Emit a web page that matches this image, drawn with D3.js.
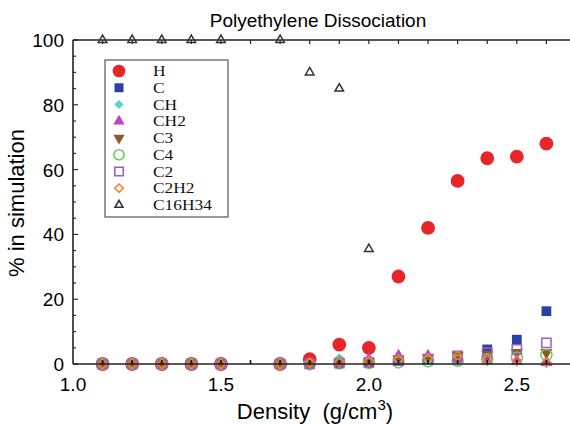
<!DOCTYPE html>
<html>
<head>
<meta charset="utf-8">
<script src="https://cdn.jsdelivr.net/npm/d3@7"></script>
<style>
  body { margin: 0; background: #fff; }
  svg { display: block; }
</style>
</head>
<body>
<div id="chart"></div>
<script>
const width = 570
const height = 424

const density = [1.1, 1.2, 1.3, 1.4, 1.5, 1.7, 1.8, 1.9, 2.0, 2.1, 2.2, 2.3, 2.4, 2.5, 2.6]

const H      = [0, 0, 0, 0, 0, 0, 1.5, 6, 5, 27, 42, 56.5, 63.5, 64, 68]
const C      = [0, 0, 0, 0, 0, 0, 0, 0.3, 0.5, 1, 1.5, 2.5, 4.5, 7.5, 16.3]
const CH     = [0, 0, 0, 0, 0, 0, 0.5, 1.8, 1.2, 1, 1, 1, 0.8, 0.8, 0.5]
const CH2    = [0, 0, 0, 0, 0, 0, 0.2, 0.5, 1.5, 2.5, 2.5, 1.5, 1, 0.8, 0.5]
const C3     = [0, 0, 0, 0, 0, 0, 0, 0.3, 0.5, 1.5, 2, 2.5, 3, 3.5, 3.5]
const C4     = [0, 0, 0, 0, 0, 0, 0, 0.2, 0.3, 0.5, 0.8, 1, 1.5, 2, 2.8]
const C2     = [0, 0, 0, 0, 0, 0, 0, 0.3, 0.5, 1, 1.5, 2.5, 3.5, 4.5, 6.5]
const C2H2   = [0, 0, 0, 0, 0, 0, 0.3, 0.5, 0.8, 1.5, 1.8, 2.5, 1.5, 1, 0.5]
const C16H34 = [100, 100, 100, 100, 100, 100, 90, 85, 35.5, null, null, null, null, null, null]

const xTicks = [1.0, 1.5, 2.0, 2.5]
const yTicks = [0, 20, 40, 60, 80, 100]

const series = [
    { name: "H", values: H, shape: d3.symbolCircle, size: 150, fill: "#e8262a", stroke: "none", rot: 0 },
    { name: "C", values: C, shape: d3.symbolSquare, size: 95, fill: "#2840a8", stroke: "none", rot: 0 },
    { name: "CH", values: CH, shape: d3.symbolSquare, size: 50, fill: "#52d8c8", stroke: "none", rot: 45 },
    { name: "CH2", values: CH2, shape: d3.symbolTriangle, size: 65, fill: "#c040c8", stroke: "none", rot: 0 },
    { name: "C3", values: C3, shape: d3.symbolTriangle, size: 65, fill: "#8a5a2a", stroke: "none", rot: 180 },
    { name: "C4", values: C4, shape: d3.symbolCircle, size: 95, fill: "none", stroke: "#6acc5a", rot: 0 },
    { name: "C2", values: C2, shape: d3.symbolSquare, size: 85, fill: "none", stroke: "#a25cc0", rot: 0 },
    { name: "C2H2", values: C2H2, shape: d3.symbolSquare, size: 42, fill: "none", stroke: "#f08434", rot: 45 },
    { name: "C16H34", values: C16H34, shape: d3.symbolTriangle, size: 32, fill: "none", stroke: "#333", rot: 0 }
]

const svg = d3.select("#chart")
    .append("svg")
    .attr("width", width)
    .attr("height", height)

const x = d3.scaleLinear().domain([1.0, 2.7]).range([73, 576])
const y = d3.scaleLinear().domain([0, 100]).range([364, 40])

// frame
svg.append("line").attr("x1", x(1.0)).attr("x2", width).attr("y1", y(100)).attr("y2", y(100))
    .attr("stroke", "#222").attr("stroke-width", 1.6)
svg.append("line").attr("x1", x(1.0)).attr("x2", x(1.0)).attr("y1", y(100)).attr("y2", y(0))
    .attr("stroke", "#222").attr("stroke-width", 1.6)

// minor x ticks inside (top and bottom)
const xMinor = d3.range(11, 27).map(d => d / 10)
svg.selectAll(".xt").data(xMinor).enter().append("line")
    .attr("x1", d => x(d)).attr("x2", d => x(d))
    .attr("y1", y(100)).attr("y2", y(100) + 4)
    .attr("stroke", "#222").attr("stroke-width", 1.2)

// y ticks inside
const yMinor = d3.range(0, 101, 5)
svg.selectAll(".yt").data(yMinor).enter().append("line")
    .attr("x1", x(1.0)).attr("x2", d => x(1.0) + (d % 20 === 0 ? 5 : 3))
    .attr("y1", d => y(d)).attr("y2", d => y(d))
    .attr("stroke", "#222").attr("stroke-width", 1.1)

// tick labels
svg.selectAll(".xl").data(xTicks).enter().append("text")
    .attr("x", d => x(d)).attr("y", 391)
    .attr("text-anchor", "middle")
    .style("font-family", "Liberation Sans, Arial, sans-serif")
    .style("font-size", "19px")
    .text(d => d.toFixed(1))

svg.selectAll(".yl").data(yTicks).enter().append("text")
    .attr("x", 64).attr("y", d => y(d) + 7)
    .attr("text-anchor", "end")
    .style("font-family", "Liberation Sans, Arial, sans-serif")
    .style("font-size", "19px")
    .text(d => d)

// points
series.forEach(s => {
    const pts = density.map((d, i) => ({ x: d, y: s.values[i] })).filter(d => d.y != null)
    svg.selectAll(null).data(pts).enter().append("path")
        .attr("d", d3.symbol().type(s.shape).size(s.size))
        .attr("transform", d => `translate(${x(d.x)},${y(d.y)}) rotate(${s.rot})`)
        .attr("fill", s.fill)
        .attr("stroke", s.stroke)
        .attr("stroke-width", 1.5)
})

// bottom axis line and ticks drawn over points
svg.append("line").attr("x1", x(1.0)).attr("x2", width).attr("y1", y(0)).attr("y2", y(0))
    .attr("stroke", "#222").attr("stroke-width", 1.6)
svg.selectAll(".xb").data(xMinor).enter().append("line")
    .attr("x1", d => x(d)).attr("x2", d => x(d))
    .attr("y1", y(0)).attr("y2", y(0) - 4)
    .attr("stroke", "#111").attr("stroke-width", 1.6)

// legend
const legend = svg.append("g")
legend.append("rect")
    .attr("x", 105).attr("y", 60).attr("width", 123).attr("height", 157)
    .attr("fill", "#fff").attr("stroke", "#555").attr("stroke-width", 1.2)

const row = legend.selectAll(".row").data(series).enter().append("g")
    .attr("transform", (d, i) => `translate(119,${71 + i * 16.75})`)
row.append("path")
    .attr("d", d => d3.symbol().type(d.shape).size(d.size * 0.85)())
    .attr("transform", d => `rotate(${d.rot})`)
    .attr("fill", d => d.fill)
    .attr("stroke", d => d.stroke)
    .attr("stroke-width", 1.6)
row.append("text")
    .attr("transform", "translate(34,5) scale(1.2,1)")
    .style("font-family", "Liberation Serif, Times New Roman, serif")
    .style("font-size", "14.5px")
    .style("fill", "#111")
    .text(d => d.name)

// title and axis titles
svg.append("text")
    .attr("x", 318).attr("y", 27)
    .attr("text-anchor", "middle")
    .style("font-family", "Liberation Sans, Arial, sans-serif")
    .style("font-size", "19px")
    .text("Polyethylene Dissociation")

const xTitle = svg.append("text")
    .attr("x", 315).attr("y", 419)
    .attr("text-anchor", "middle")
    .style("font-family", "Liberation Sans, Arial, sans-serif")
    .style("font-size", "22px")
xTitle.append("tspan").text("Density\u00a0 (g/cm")
xTitle.append("tspan").attr("dy", -9).style("font-size", "15px").text("3")
xTitle.append("tspan").attr("dy", 9).text(")")

svg.append("text")
    .attr("transform", "translate(24,203) rotate(-90)")
    .attr("text-anchor", "middle")
    .style("font-family", "Liberation Sans, Arial, sans-serif")
    .style("font-size", "22px")
    .text("% in simulation")
</script>
</body>
</html>
